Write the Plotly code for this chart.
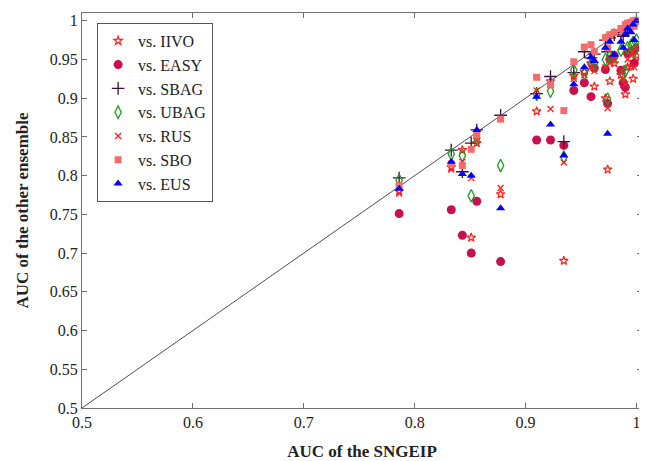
import plotly.graph_objects as go

# SNGEIP AUC per dataset (x) and the AUC of each competing ensemble (y)
sngeip = [0.786, 0.833, 0.843, 0.851, 0.856, 0.8775, 0.910, 0.9225, 0.9345, 0.9435,
          0.953, 0.959, 0.962, 0.972, 0.974, 0.976, 0.980, 0.986, 0.988, 0.990,
          0.992, 0.995, 0.997, 1.000, 0.998]

iivo = [0.780, 0.811, 0.833, 0.720, 0.842, 0.776, 0.883, 0.922, 0.690, 0.929,
        0.934, 0.945, 0.915, 0.900, 0.808, 0.922, 0.945, 0.930, 0.918, 0.905,
        0.940, 0.941, 0.925, 0.955, 0.947]
easy = [0.751, 0.756, 0.723, 0.700, 0.767, 0.689, 0.846, 0.846, 0.839, 0.910,
        0.920, 0.902, 0.939, 0.937, 0.893, 0.950, 0.955, 0.936, 0.920, 0.914,
        0.958, 0.960, 0.962, 0.965, 0.945]
sbag = [0.797, 0.833, 0.805, 0.842, 0.859, 0.878, 0.906, 0.928, 0.844, 0.933,
        0.960, 0.952, 0.957, 0.975, 0.960, 0.978, 0.982, 0.985, 0.980, 0.988,
        0.990, 0.993, 0.996, 1.000, 0.997]
ubag = [0.794, 0.828, 0.826, 0.774, 0.848, 0.813, 0.905, 0.909, 0.824, 0.936,
        0.932, 0.944, 0.945, 0.950, 0.899, 0.955, 0.953, 0.962, 0.930, 0.935,
        0.965, 0.968, 0.972, 0.975, 0.960]
rus = [0.777, 0.808, 0.818, 0.797, 0.846, 0.784, 0.910, 0.886, 0.817, 0.925,
       0.930, 0.940, 0.935, 0.940, 0.887, 0.945, 0.950, 0.935, 0.925, 0.918,
       0.950, 0.955, 0.960, 0.965, 0.940]
sbo = [0.787, 0.815, 0.813, 0.834, 0.853, 0.873, 0.927, 0.917, 0.884, 0.947,
       0.966, 0.969, 0.960, 0.978, 0.965, 0.982, 0.985, 0.990, 0.985, 0.995,
       0.997, 0.998, 1.000, 1.000, 0.993]
eus = [0.783, 0.818, 0.802, 0.800, 0.859, 0.758, 0.902, 0.866, 0.826, 0.918,
       0.940, 0.953, 0.948, 0.965, 0.854, 0.973, 0.956, 0.973, 0.965, 0.983,
       0.990, 0.985, 0.995, 1.000, 0.975]

diag = [0.5, 1.01]

series = [
    ("vs. IIVO", iivo, dict(symbol="star-open", size=6.5, color="#FF2020", line=dict(width=1.2, color="#FF2020"))),
    ("vs. EASY", easy, dict(symbol="circle", size=9, color="#C8104F", line=dict(width=0))),
    ("vs. SBAG", sbag, dict(symbol="cross-thin-open", size=9, color="#3A1040", line=dict(width=1.3, color="#3A1040"))),
    ("vs. UBAG", ubag, dict(symbol="diamond-tall-open", size=9, color="#1E9A1E", line=dict(width=1.3, color="#1E9A1E"))),
    ("vs. RUS", rus, dict(symbol="x-thin-open", size=6, color="#FF2020", line=dict(width=1.3, color="#FF2020"))),
    ("vs. SBO", sbo, dict(symbol="square", size=7, color="#F86A6A", line=dict(width=0))),
    ("vs. EUS", eus, dict(symbol="triangle-up", size=8, color="#0000FF", line=dict(width=0))),
]

fig = go.Figure()
fig.add_trace(go.Scatter(x=diag, y=diag, mode="lines", line=dict(color="#505050", width=1),
                         showlegend=False, hoverinfo="skip"))
for name, vals, mk in series:
    fig.add_trace(go.Scatter(x=sngeip, y=vals, mode="markers", name=name, marker=mk))

axis_common = dict(showline=True, linecolor="#707070", linewidth=1, mirror="ticks",
                   ticks="inside", ticklen=5, tickcolor="#707070", showgrid=False,
                   zeroline=False, tickfont=dict(family="Liberation Serif", size=16, color="#222"))

# the page body has an 8px margin; the figure is sized/offset to compensate
fig.update_layout(
    width=639, height=453,
    margin=dict(l=74, r=4, t=4, b=47),
    paper_bgcolor="white", plot_bgcolor="white",
    xaxis=dict(range=[0.5, 1.005], tickvals=[0.5, 0.6, 0.7, 0.8, 0.9, 1.0],
               ticktext=["0.5", "0.6", "0.7", "0.8", "0.9", "1"],
               title=dict(text="<b>AUC of the SNGEIP</b>", standoff=14,
                          font=dict(family="Liberation Serif", size=17, color="#222")),
               **axis_common),
    yaxis=dict(range=[0.5, 1.01], tickvals=[0.5, 0.55, 0.6, 0.65, 0.7, 0.75, 0.8, 0.85, 0.9, 0.95, 1.0],
               ticktext=["0.5", "0.55", "0.6", "0.65", "0.7", "0.75", "0.8", "0.85", "0.9", "0.95", "1"],
               title=dict(text="<b>AUC of the other ensemble</b>", standoff=16,
                          font=dict(family="Liberation Serif", size=17, color="#222")),
               **axis_common),
    legend=dict(x=0.027, y=0.975, xanchor="left", yanchor="top",
                bgcolor="white", bordercolor="#555", borderwidth=1,
                font=dict(family="Liberation Serif", size=16, color="#222"),
                itemwidth=30, tracegroupgap=0),
    showlegend=True,
)

fig.write_html("out.html")
